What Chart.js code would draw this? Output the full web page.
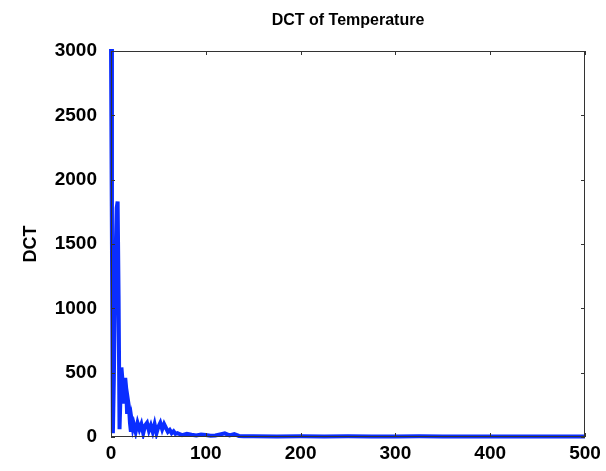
<!DOCTYPE html>
<html>
<head>
<meta charset="utf-8">
<script src="https://cdn.jsdelivr.net/npm/chart.js@4.4.1/dist/chart.umd.min.js"></script>
<style>
  html, body { margin: 0; padding: 0; background: #fff; }
  #wrap { width: 606px; height: 471px; }
</style>
</head>
<body>
<div id="wrap"><canvas id="dct"></canvas></div>
<script>
// coefficient index and |DCT| magnitude (sparse where the curve is flat)
const coefIndex = [
  0, 1, 2, 3, 4, 5, 6, 7, 8, 9, 10, 11, 12, 13, 14, 15, 16, 17, 18, 19, 20, 21, 22, 23, 24,
  26, 28, 30, 32, 34, 36, 38, 40, 42, 44, 46, 48, 50, 52, 54, 56, 58, 60, 62, 64, 66, 68, 70,
  75, 80, 85, 90, 95, 100, 105, 110, 115, 120, 125, 130, 135, 140,
  150, 175, 200, 225, 250, 275, 300, 325, 350, 375, 400, 425, 450, 475, 500
];
const dctValues = [
  3080, 1500, 30, 450, 1000, 1450, 1780, 1830, 1100, 60, 320, 540, 450, 260, 360, 460, 380, 180, 280, 230, 110, 40, 120, 70, 100,
  40, 110, 60, 100, 30, 90, 110, 50, 90, 40, 100, 30, 80, 110, 60, 100, 70, 40, 55, 30, 45, 25, 30,
  15, 25, 18, 12, 20, 15, 10, 12, 20, 28, 12, 22, 8, 6,
  5, 4, 6, 4, 5, 3, 4, 5, 3, 4, 3, 4, 3, 4, 3
];
const xTicks = [0, 100, 200, 300, 400, 500];
const yTicks = [0, 500, 1000, 1500, 2000, 2500, 3000];
const chartTitle = 'DCT of Temperature';

const fontFamily = 'Liberation Sans, Arial, sans-serif';
const tickFont = { family: fontFamily, size: 19, weight: 'bold' };

// box around the plot with ticks pointing inward, plus the title centred over the plot
const boxTicks = {
  id: 'boxTicks',
  afterDatasetsDraw(chart) {
    const { ctx, chartArea: a, scales } = chart;
    const len = 4;
    ctx.save();
    ctx.strokeStyle = '#333';
    ctx.lineWidth = 1;
    ctx.strokeRect(a.left + 0.5, a.top + 0.5, a.right - a.left - 1, a.bottom - a.top - 1);
    ctx.beginPath();
    xTicks.forEach(v => {
      const px = Math.round(scales.x.getPixelForValue(v)) + 0.5;
      ctx.moveTo(px, a.bottom); ctx.lineTo(px, a.bottom - len);
      ctx.moveTo(px, a.top); ctx.lineTo(px, a.top + len);
    });
    yTicks.forEach(v => {
      const py = Math.round(scales.y.getPixelForValue(v)) + 0.5;
      ctx.moveTo(a.left, py); ctx.lineTo(a.left + len, py);
      ctx.moveTo(a.right, py); ctx.lineTo(a.right - len, py);
    });
    ctx.stroke();

    ctx.fillStyle = '#000';
    ctx.font = 'bold 16px ' + fontFamily;
    ctx.textAlign = 'center';
    ctx.textBaseline = 'middle';
    ctx.fillText(chartTitle, (a.left + a.right) / 2, 21);
    ctx.restore();
  }
};

new Chart(document.getElementById('dct'), {
  type: 'line',
  data: {
    datasets: [{
      data: coefIndex.map((x, i) => ({ x: x, y: dctValues[i] })),
      borderColor: '#0a2dff',
      borderWidth: 4,
      pointRadius: 0,
      tension: 0,
      fill: false,
      clip: 2
    }]
  },
  options: {
    responsive: true,
    maintainAspectRatio: false,
    animation: false,
    layout: { padding: { top: 51, right: 21, left: 0, bottom: 0 } },
    plugins: {
      legend: { display: false },
      tooltip: { enabled: false },
      title: { display: false }
    },
    scales: {
      x: {
        type: 'linear',
        min: 0,
        max: 500,
        afterBuildTicks: s => { s.ticks = xTicks.map(v => ({ value: v })); },
        afterFit: s => { s.height = 34; },
        grid: { display: false, drawTicks: false },
        border: { display: false },
        ticks: { color: '#000', font: tickFont, padding: 5, maxRotation: 0, callback: v => String(v) }
      },
      y: {
        min: 0,
        max: 3000,
        afterBuildTicks: s => { s.ticks = yTicks.map(v => ({ value: v })); },
        afterFit: s => { s.width = 111; },
        grid: { display: false, drawTicks: false },
        border: { display: false },
        title: {
          display: true,
          text: 'DCT',
          color: '#000',
          font: { family: fontFamily, size: 18, weight: 'bold' },
          padding: { top: 20, bottom: 0 }
        },
        ticks: { color: '#000', font: tickFont, padding: 14, callback: v => String(v) }
      }
    }
  },
  plugins: [boxTicks]
});
</script>
</body>
</html>
